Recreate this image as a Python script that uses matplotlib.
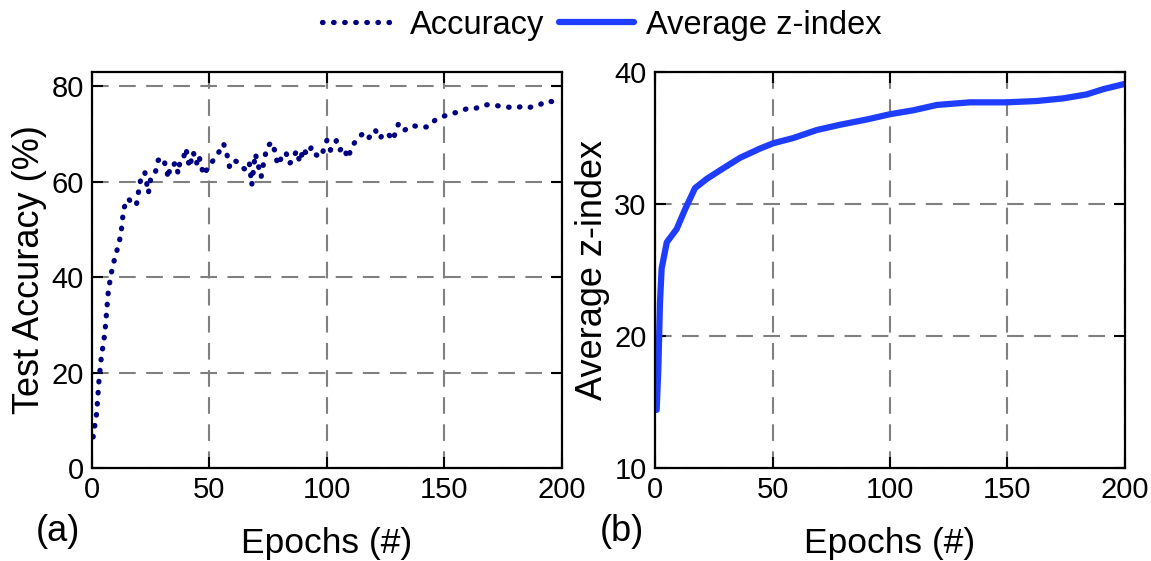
import matplotlib.pyplot as plt
import numpy as np

plt.rcParams['font.family'] = ['Liberation Sans', 'DejaVu Sans']

# test accuracy (%) per epoch
acc_epochs = [0.5, 2, 3, 4, 5.5, 7, 8.5, 10, 11.5, 12.5, 13.5, 15.5, 17.5, 19, 20.5,
              22.5, 24, 25, 27, 28.2, 29.5, 30.4, 31.8, 32.5, 33.2, 34, 35.5, 36.7,
              37.5, 38.9, 40, 41.5, 43.1, 44.5, 45.5, 47.5, 50, 52, 54, 56, 57.5, 58.5,
              60, 62, 64.5, 66, 67, 68, 69.5, 71, 72, 73, 74.5, 76.5, 78, 79, 80.5,
              82.5, 84, 85.5, 87, 88.5, 90, 91.5, 93.5, 95.5, 97.5, 100, 101.5, 102.5,
              104, 105.5, 107, 109, 110.5, 113.5, 115.5, 117.5, 120.5, 122.5, 124, 126,
              128, 130.5, 133, 136.5, 139.5, 143, 146, 149, 153, 156, 159.5, 163, 166,
              169.5, 174, 176.5, 180, 183, 185.5, 190, 193.5, 198, 200]
acc_values = [6.5, 11.5, 18.4, 23.3, 28.3, 37.3, 41.5, 44.6, 47.0, 49.8, 54.4, 56.5,
              55.0, 55.4, 60.0, 62.0, 57.6, 60.7, 62.0, 64.5, 65.0, 64.9, 62.4, 60.7,
              63.1, 63.0, 64.0, 61.7, 64.5, 64.9, 67.0, 63.0, 66.2, 63.8, 65.5, 61.4,
              63.5, 64.7, 66.2, 68.0, 65.6, 63.2, 64.6, 64.1, 62.8, 62.4, 63.8, 59.3,
              65.9, 63.0, 61.0, 63.8, 67.3, 68.3, 66.2, 63.5, 64.9, 66.2, 63.8, 64.5,
              66.5, 64.1, 67.0, 65.6, 67.3, 65.6, 65.2, 68.7, 66.6, 67.6, 68.6, 66.6,
              67.3, 64.9, 67.3, 69.4, 70.1, 69.0, 70.9, 69.0, 70.1, 70.1, 68.7, 72.2,
              70.8, 71.8, 71.4, 71.5, 72.9, 73.6, 74.3, 74.6, 75.3, 75.3, 76.0, 76.2,
              75.8, 75.7, 75.4, 75.8, 75.5, 76.0, 76.9, 76.7, 76.8]

# average z-index per epoch
z_epochs = [0.7, 1.4, 2.1, 2.8, 5, 9.2, 12.8, 17, 22, 29, 36.2, 44.7, 50.3, 58.9,
            68.8, 78.7, 90.1, 100, 110, 119.9, 134, 149.6, 162.4, 173.7, 183.7,
            190.8, 200]
z_values = [14.4, 17.5, 22.5, 25.1, 27.1, 28.1, 29.6, 31.2, 31.9, 32.7, 33.5, 34.2,
            34.6, 35.0, 35.6, 36.0, 36.4, 36.8, 37.1, 37.5, 37.7, 37.7, 37.8, 38.0,
            38.3, 38.7, 39.1]

fig = plt.figure(figsize=(11.51, 5.61), dpi=100)
ax1 = fig.add_axes([0.0799, 0.1658, 0.4083, 0.7059])
ax2 = fig.add_axes([0.5691, 0.1658, 0.4083, 0.7059])

l1, = ax1.plot(acc_epochs, acc_values, linestyle=(0, (0.1, 2.0)), color='#000080',
               lw=3.8, dash_capstyle='round', label='Accuracy')
l2, = ax2.plot(z_epochs, z_values, linestyle='-', color='#1f3dff', lw=4.5,
               solid_capstyle='round', label='Average z-index')

ax1.set_xlim(0, 200)
ax1.set_ylim(0, 83)
ax1.set_yticks([0, 20, 40, 60, 80])
ax2.set_xlim(0, 200)
ax2.set_ylim(10, 40)
ax2.set_yticks([10, 20, 30, 40])

for ax in (ax1, ax2):
    ax.set_xticks([0, 50, 100, 150, 200])
    ax.grid(True, linestyle=(0, (8, 5)), color='#808080', lw=1.5)
    ax.tick_params(direction='in', length=8, width=1.5, labelsize=21,
                   top=True, right=True, pad=6)
    for s in ax.spines.values():
        s.set_linewidth(1.6)
    ax.set_xlabel('Epochs (#)', fontsize=25.5, labelpad=16)

ax1.set_ylabel('Test Accuracy (%)', fontsize=26, labelpad=3)
ax2.set_ylabel('Average z-index', fontsize=26, labelpad=3)

fig.text(0.05, 0.053, '(a)', fontsize=26, ha='center', va='center')
fig.text(0.54, 0.053, '(b)', fontsize=26, ha='center', va='center')

fig.legend(handles=[l1, l2], loc='center', bbox_to_anchor=(0.523, 0.955),
           ncol=2, frameon=False, fontsize=23.5, handlelength=2.3,
           columnspacing=0.45, handletextpad=0.37)

fig.savefig('out.png', dpi=100)
